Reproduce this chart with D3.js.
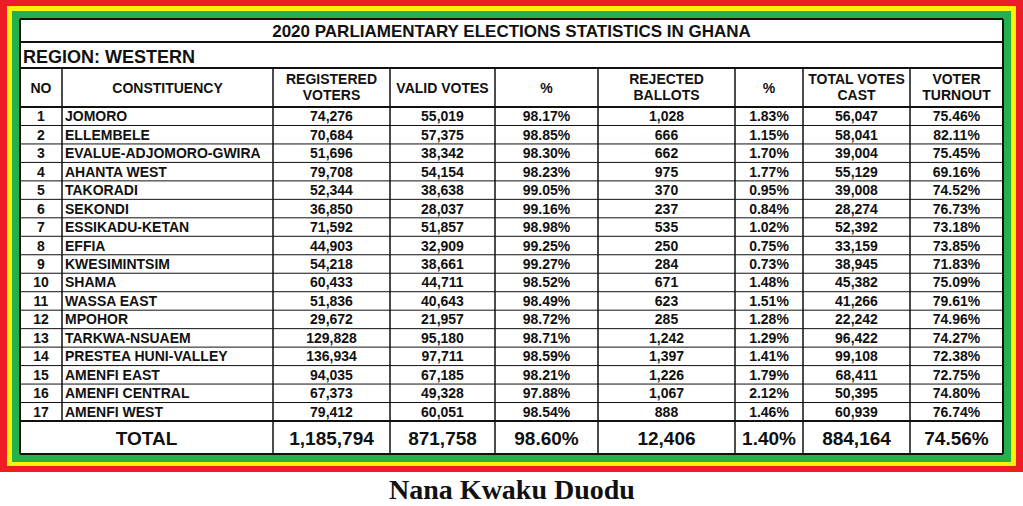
<!DOCTYPE html>
<html>
<head>
<script src="https://cdn.jsdelivr.net/npm/d3@7"></script>
<style>
body { margin: 0; background: #fff; }
text { font-family: "Liberation Sans", Arial, sans-serif; font-weight: bold; fill: #111; }
</style>
</head>
<body>
<svg id="chart" width="1023" height="506"></svg>
<script>
const constituencies = ["JOMORO","ELLEMBELE","EVALUE-ADJOMORO-GWIRA","AHANTA WEST","TAKORADI","SEKONDI","ESSIKADU-KETAN","EFFIA","KWESIMINTSIM","SHAMA","WASSA EAST","MPOHOR","TARKWA-NSUAEM","PRESTEA HUNI-VALLEY","AMENFI EAST","AMENFI CENTRAL","AMENFI WEST"];
const registered = [74276,70684,51696,79708,52344,36850,71592,44903,54218,60433,51836,29672,129828,136934,94035,67373,79412];
const valid = [55019,57375,38342,54154,38638,28037,51857,32909,38661,44711,40643,21957,95180,97711,67185,49328,60051];
const validPct = ["98.17%","98.85%","98.30%","98.23%","99.05%","99.16%","98.98%","99.25%","99.27%","98.52%","98.49%","98.72%","98.71%","98.59%","98.21%","97.88%","98.54%"];
const rejected = [1028,666,662,975,370,237,535,250,284,671,623,285,1242,1397,1226,1067,888];
const rejectedPct = ["1.83%","1.15%","1.70%","1.77%","0.95%","0.84%","1.02%","0.75%","0.73%","1.48%","1.51%","1.28%","1.29%","1.41%","1.79%","2.12%","1.46%"];
const totalCast = [56047,58041,39004,55129,39008,28274,52392,33159,38945,45382,41266,22242,96422,99108,68411,50395,60939];
const turnout = ["75.46%","82.11%","75.45%","69.16%","74.52%","76.73%","73.18%","73.85%","71.83%","75.09%","79.61%","74.96%","74.27%","72.38%","72.75%","74.80%","76.74%"];
const totals = ["1,185,794","871,758","98.60%","12,406","1.40%","884,164","74.56%"];
const headers = [["NO"],["CONSTITUENCY"],["REGISTERED","VOTERS"],["VALID VOTES"],["%"],["REJECTED","BALLOTS"],["%"],["TOTAL VOTES","CAST"],["VOTER","TURNOUT"]];
const colEdges = [20,62,273,390,495,598,735,803,910,1003];

const svg = d3.select("#chart");
const fmt = d3.format(",");
// flag frame
svg.append("rect").attr("x",0).attr("y",0).attr("width",1023).attr("height",472).attr("fill","#ee1c25");
svg.append("rect").attr("x",7).attr("y",6).attr("width",1009).attr("height",460).attr("fill","#fff200");
svg.append("rect").attr("x",12).attr("y",11).attr("width",999).attr("height",451).attr("fill","#22b14c");
svg.append("rect").attr("x",20).attr("y",19).attr("width",983).attr("height",435).attr("fill","#fff");

const x0 = 20, x1 = 1003;
const y = d3.scaleBand().domain(d3.range(17)).range([107,421]);
const line = (xa,ya,xb,yb,w) => svg.append("line").attr("x1",xa).attr("y1",ya).attr("x2",xb).attr("y2",yb)
  .attr("stroke","#111").attr("stroke-width",w||1.5);

[19,42,68,107,421,454].forEach(v => line(x0,v,x1,v,2));
line(x0,19,x0,454,2); line(x1,19,x1,454,2);
d3.range(1,17).forEach(i => line(x0,y(i),x1,y(i),1));
colEdges.slice(1,-1).forEach((cx,i) => line(cx,68,cx, i===0 ? 421 : 454, 1.5));

svg.append("text").attr("x",(x0+x1)/2).attr("y",37).attr("text-anchor","middle").attr("font-size",17)
  .text("2020 PARLIAMENTARY ELECTIONS STATISTICS IN GHANA");
svg.append("text").attr("x",23).attr("y",63).attr("font-size",18).text("REGION: WESTERN");

headers.forEach((h,i) => {
  const cx = (colEdges[i]+colEdges[i+1])/2;
  const t = svg.append("text").attr("text-anchor","middle").attr("font-size",14);
  h.forEach((s,j) => t.append("tspan").attr("x",cx).attr("y", h.length===1 ? 93 : 84+j*16).text(s));
});

const rows = constituencies.map((c,i) => [String(i+1), c, fmt(registered[i]), fmt(valid[i]), validPct[i], fmt(rejected[i]), rejectedPct[i], fmt(totalCast[i]), turnout[i]]);
rows.forEach((r,i) => {
  r.forEach((s,j) => {
    const left = j===1;
    svg.append("text").attr("x", left ? colEdges[1]+3 : (colEdges[j]+colEdges[j+1])/2)
      .attr("y", y(i)+y.bandwidth()/2+5).attr("text-anchor", left ? "start" : "middle")
      .attr("font-size",14).text(s);
  });
});

svg.append("text").attr("x",(colEdges[0]+colEdges[2])/2).attr("y",445).attr("text-anchor","middle").attr("font-size",19).text("TOTAL");
totals.forEach((s,j) => {
  svg.append("text").attr("x",(colEdges[j+2]+colEdges[j+3])/2).attr("y",445).attr("text-anchor","middle").attr("font-size",19).text(s);
});

svg.append("text").attr("x",512).attr("y",499).attr("text-anchor","middle").attr("font-size",28)
  .style("font-family","'Liberation Serif', serif").text("Nana Kwaku Duodu");
</script>
</body>
</html>
